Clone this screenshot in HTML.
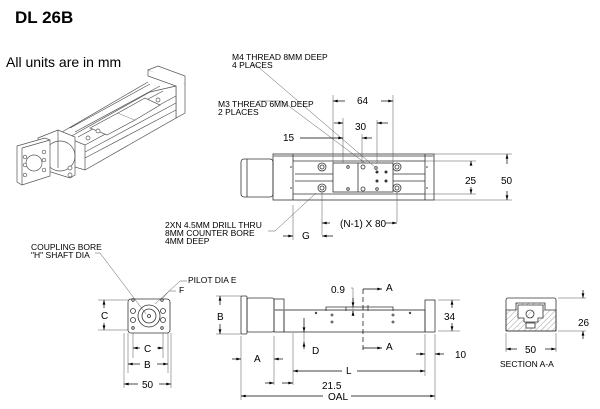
<!DOCTYPE html>
<html><head><meta charset="utf-8"><style>
html,body{margin:0;padding:0;background:#fff;width:600px;height:409px;overflow:hidden}
svg{display:block}
text{font-family:"Liberation Sans",Arial,sans-serif;fill:#000}
.s{font-size:8.5px}
.d{font-size:10px}
</style></head><body>
<svg width="600" height="409" viewBox="0 0 600 409" xmlns="http://www.w3.org/2000/svg">
<defs>
<marker id="a" viewBox="0 0 10 6" refX="10" refY="3" markerWidth="8" markerHeight="4" orient="auto-start-reverse"><path d="M0,0L10,3L0,6z" fill="#000"/></marker>
<pattern id="h" width="4" height="4" patternUnits="userSpaceOnUse" patternTransform="rotate(45)"><line x1="0" y1="0" x2="0" y2="4" stroke="#777" stroke-width="0.7"/></pattern>
</defs>
<text x="15" y="23" font-size="17" font-weight="bold">DL 26B</text>
<text x="6" y="67" font-size="14">All units are in mm</text>

<!-- iso view -->
<g fill="#fff" stroke="#555" stroke-width="0.7">
<!-- end block -->
<path d="M148,70 L175,78 L185,84 L185,113 L176,118 L176,86 L148,76 Z"/>
<path d="M148,70 L158,66 L185,76 L185,84"/>
<!-- body -->
<path d="M68,138 L150,92 L176,86 L176,118 L85,170 L68,165 Z"/>
<path d="M68,138 L85,145 L176,96"/>
<path d="M85,145 L85,170"/>
<path d="M85,152 L176,103 M85,158 L176,110"/>
<path d="M62,132 L148,82 M70,128 L150,84"/>
<!-- rails and carriage -->
<path d="M75,132 L160,86 M78,137 L163,91"/>
<path d="M90,128 L118,113 L135,120 L107,135 Z"/>
<path d="M118,113 L145,98 L160,105 L135,120"/>
<circle cx="98" cy="131" r="2"/><circle cx="88" cy="138" r="2"/><circle cx="158" cy="100" r="2"/>
<!-- motor block -->
<path d="M38,138 L58,130 L75,137 L75,175 L70,178 L38,168 Z"/>
<path d="M58,130 L58,168"/>
<circle cx="60" cy="156" r="15" fill="none"/>
<circle cx="70" cy="168" r="2"/><circle cx="70" cy="175" r="2"/>
<!-- flange -->
<path d="M17,146 L45,138 L50,140 L50,176 L22,185 L17,182 Z"/>
<path d="M22,148 L50,140 M22,148 L22,185"/>
<circle cx="34" cy="163" r="8"/>
<circle cx="25" cy="157" r="1.8"/><circle cx="25" cy="165" r="1.8"/><circle cx="44" cy="152" r="1.8"/><circle cx="44" cy="160" r="1.8"/>
<circle cx="25" cy="175" r="1.8"/><circle cx="44" cy="170" r="1.8"/>
</g>

<!-- top view -->
<g fill="none" stroke="#333" stroke-width="0.8">
<rect x="241" y="159" width="32" height="38" rx="3"/>
<line x1="247" y1="159" x2="247" y2="197"/>
<rect x="273" y="154" width="161" height="46"/>
<line x1="273" y1="156" x2="434" y2="156" stroke-width="1.5" stroke="#999"/>
<line x1="293" y1="154" x2="293" y2="200"/>
<line x1="425" y1="154" x2="425" y2="200"/>
<line x1="293" y1="161" x2="425" y2="161"/><line x1="293" y1="194" x2="425" y2="194"/>
<line x1="295" y1="174" x2="333" y2="174"/><line x1="295" y1="181" x2="333" y2="181"/>
<line x1="393" y1="174" x2="425" y2="174"/><line x1="393" y1="181" x2="425" y2="181"/>
<rect x="333" y="163" width="60" height="29"/>
<line x1="358" y1="163" x2="358" y2="192"/>
<circle cx="322" cy="167" r="4"/><circle cx="322" cy="167" r="2"/>
<circle cx="322" cy="188" r="4"/><circle cx="322" cy="188" r="2"/>
<circle cx="397" cy="167" r="4"/><circle cx="397" cy="167" r="2"/>
<circle cx="397" cy="188" r="4"/><circle cx="397" cy="188" r="2"/>
<circle cx="363" cy="167" r="2"/><circle cx="363" cy="189" r="2"/>
<circle cx="348" cy="167" r="1.3"/><circle cx="348" cy="189" r="1.3"/><circle cx="377" cy="189" r="1.3"/>
<circle cx="376" cy="168" r="1.3"/>
</g>
<g fill="#333"><circle cx="377" cy="172" r="1.5"/><circle cx="386" cy="172" r="1.5"/><circle cx="377" cy="181" r="1.5"/><circle cx="386" cy="181" r="1.5"/>
<circle cx="291" cy="167" r="0.8"/><circle cx="291" cy="188" r="0.8"/><circle cx="427" cy="167" r="0.8"/><circle cx="427" cy="188" r="0.8"/></g>
<g stroke="#555" stroke-width="0.5" fill="none">
<line x1="333" y1="95" x2="333" y2="163"/><line x1="393" y1="95" x2="393" y2="163"/>
<line x1="343" y1="118" x2="343" y2="163"/><line x1="377" y1="120" x2="377" y2="163"/>
<line x1="362" y1="134" x2="362" y2="163"/>
<line x1="322" y1="192" x2="322" y2="235"/><line x1="397" y1="192" x2="397" y2="222"/>
<line x1="293" y1="205" x2="293" y2="240"/>
<line x1="434" y1="154" x2="512" y2="154"/><line x1="434" y1="200" x2="512" y2="200"/>
<line x1="403" y1="161" x2="476" y2="161"/><line x1="403" y1="194" x2="476" y2="194"/>
<path d="M259,101 L282,101 L365,163"/>
<path d="M252,65 L256,65 L375,167"/>
<path d="M268,231 L275,231 L316,193"/>
</g>
<g stroke="#000" stroke-width="0.7" fill="none">
<line x1="345" y1="101" x2="333" y2="101" marker-end="url(#a)"/><line x1="381" y1="101" x2="393" y2="101" marker-end="url(#a)"/>
<line x1="334" y1="123" x2="343" y2="123" marker-end="url(#a)"/><line x1="388" y1="123" x2="377" y2="123" marker-end="url(#a)"/>
<line x1="300" y1="138" x2="343" y2="138" marker-end="url(#a)"/><line x1="372" y1="138" x2="362" y2="138" marker-end="url(#a)"/>
<line x1="471" y1="164" x2="471" y2="161" marker-end="url(#a)"/><line x1="471" y1="187" x2="471" y2="194" marker-end="url(#a)"/>
<line x1="507" y1="164" x2="507" y2="154" marker-end="url(#a)"/><line x1="507" y1="191" x2="507" y2="200" marker-end="url(#a)"/>
<line x1="330" y1="223" x2="322" y2="223" marker-end="url(#a)"/><line x1="386" y1="223" x2="397" y2="223" marker-end="url(#a)"/>
<line x1="283" y1="236" x2="293" y2="236" marker-end="url(#a)"/><line x1="333" y1="236" x2="322" y2="236" marker-end="url(#a)"/>
</g>
<text class="s" x="232" y="60">M4 THREAD 8MM DEEP</text>
<text class="s" x="232" y="68">4 PLACES</text>
<text class="s" x="218" y="107">M3 THREAD 6MM DEEP</text>
<text class="s" x="218" y="115">2 PLACES</text>
<text class="s" x="165" y="228">2XN 4.5MM DRILL THRU</text>
<text class="s" x="165" y="236">8MM COUNTER BORE</text>
<text class="s" x="165" y="244">4MM DEEP</text>
<text class="d" x="357" y="104">64</text>
<text class="d" x="355" y="130">30</text>
<text class="d" x="283" y="141">15</text>
<text class="d" x="465" y="184">25</text>
<text class="d" x="501" y="184">50</text>
<text class="d" x="340" y="227">(N-1) X 80</text>
<text class="d" x="302" y="239">G</text>

<!-- front view -->
<g fill="none" stroke="#333" stroke-width="0.8">
<rect x="128" y="299" width="42" height="34" rx="3"/>
<circle cx="149" cy="316" r="11"/><circle cx="149" cy="316" r="7"/><circle cx="149" cy="316" r="1.5"/>
<circle cx="133" cy="311" r="2.5"/><circle cx="133" cy="320" r="2.5"/><circle cx="163" cy="311" r="2.5"/><circle cx="163" cy="320" r="2.5"/>
<circle cx="133" cy="300" r="1.3"/><circle cx="162" cy="300" r="1.3"/><circle cx="133" cy="328" r="1.3"/><circle cx="162" cy="328" r="1.3"/>
</g>
<g stroke="#555" stroke-width="0.5" fill="none">
<path d="M95,253 L100,253 L146,314"/>
<path d="M187,281 L180,281 L155,304"/>
<path d="M176,291 L169,291 L163,298"/>
<line x1="98" y1="300" x2="128" y2="300"/><line x1="98" y1="330" x2="128" y2="330"/>
<line x1="133" y1="333" x2="133" y2="358"/><line x1="163" y1="333" x2="163" y2="358"/>
<line x1="128" y1="333" x2="128" y2="373"/><line x1="168" y1="333" x2="168" y2="373"/>
<line x1="124" y1="333" x2="124" y2="388"/><line x1="171" y1="333" x2="171" y2="388"/>
</g>
<g stroke="#000" stroke-width="0.7" fill="none">
<line x1="104" y1="308" x2="104" y2="300" marker-end="url(#a)"/><line x1="104" y1="323" x2="104" y2="330" marker-end="url(#a)"/>
<line x1="140" y1="348" x2="133" y2="348" marker-end="url(#a)"/><line x1="157" y1="348" x2="163" y2="348" marker-end="url(#a)"/>
<line x1="140" y1="364" x2="128" y2="364" marker-end="url(#a)"/><line x1="157" y1="364" x2="168" y2="364" marker-end="url(#a)"/>
<line x1="138" y1="384" x2="124" y2="384" marker-end="url(#a)"/><line x1="159" y1="384" x2="171" y2="384" marker-end="url(#a)"/>
</g>
<text class="s" x="31" y="250">COUPLING BORE</text>
<text class="s" x="31" y="258">"H" SHAFT DIA</text>
<text class="s" x="188" y="283">PILOT DIA E</text>
<text class="s" x="179" y="293">F</text>
<text class="d" x="101" y="319">C</text>
<text class="d" x="144" y="352">C</text>
<text class="d" x="144" y="368">B</text>
<text class="d" x="142" y="388">50</text>

<!-- side view -->
<g fill="none" stroke="#333" stroke-width="0.8">
<rect x="241" y="296" width="6" height="38" rx="1"/>
<rect x="247" y="298" width="27" height="34" rx="2"/>
<rect x="274" y="299" width="10" height="33"/>
<rect x="284" y="310" width="141" height="22"/>
<line x1="274" y1="310" x2="425" y2="310" stroke-width="1.5" stroke="#888"/>
<rect x="425" y="300" width="10" height="32"/>
<path d="M326,311 L326,307 L393,307 L393,311"/>
<line x1="346" y1="307" x2="346" y2="311"/><line x1="368" y1="305" x2="368" y2="311"/>
<circle cx="332" cy="315" r="1"/><circle cx="332" cy="322" r="1"/><circle cx="393" cy="315" r="1"/><circle cx="393" cy="322" r="1"/>
<circle cx="316" cy="313" r="0.8"/><circle cx="410" cy="313" r="0.8"/>
</g>
<g stroke="#000" stroke-width="0.7" fill="none">
<line x1="363" y1="289" x2="363" y2="350" stroke-dasharray="5,3"/>
<line x1="363" y1="289" x2="382" y2="289" marker-end="url(#a)"/>
<line x1="363" y1="348" x2="382" y2="348" marker-end="url(#a)"/>
</g>
<g stroke="#555" stroke-width="0.5" fill="none">
<line x1="216" y1="296" x2="241" y2="296"/><line x1="216" y1="334" x2="241" y2="334"/>
<line x1="351" y1="288" x2="353" y2="288"/><line x1="353" y1="288" x2="353" y2="315"/>
<line x1="241" y1="336" x2="241" y2="400"/><line x1="274" y1="336" x2="274" y2="385"/>
<line x1="293" y1="333" x2="293" y2="385"/><line x1="425" y1="334" x2="425" y2="376"/>
<line x1="435" y1="334" x2="435" y2="400"/>
<line x1="304" y1="332" x2="304" y2="345"/>
<line x1="438" y1="300" x2="460" y2="300"/><line x1="438" y1="331" x2="460" y2="331"/>
</g>
<g stroke="#000" stroke-width="0.7" fill="none">
<line x1="220" y1="305" x2="220" y2="296" marker-end="url(#a)"/><line x1="220" y1="324" x2="220" y2="334" marker-end="url(#a)"/>
<line x1="353" y1="298" x2="353" y2="307" marker-end="url(#a)"/><line x1="353" y1="316" x2="353" y2="311" marker-end="url(#a)"/>
<line x1="304" y1="318" x2="304" y2="332" marker-end="url(#a)"/><line x1="304" y1="349" x2="304" y2="342" marker-end="url(#a)"/>
<line x1="232" y1="359" x2="241" y2="359" marker-end="url(#a)"/><line x1="283" y1="359" x2="274" y2="359" marker-end="url(#a)"/>
<line x1="342" y1="371" x2="293" y2="371" marker-end="url(#a)"/><line x1="357" y1="371" x2="425" y2="371" marker-end="url(#a)"/>
<line x1="265" y1="383" x2="274" y2="383" marker-end="url(#a)"/><line x1="282" y1="383" x2="293" y2="383" marker-end="url(#a)"/>
<line x1="323" y1="396" x2="241" y2="396" marker-end="url(#a)"/><line x1="351" y1="396" x2="435" y2="396" marker-end="url(#a)"/>
<line x1="416" y1="354" x2="425" y2="354" marker-end="url(#a)"/><line x1="444" y1="354" x2="435" y2="354" marker-end="url(#a)"/>
<line x1="452" y1="308" x2="452" y2="300" marker-end="url(#a)"/><line x1="452" y1="323" x2="452" y2="331" marker-end="url(#a)"/>
</g>
<text class="d" x="217" y="320">B</text>
<text class="d" x="331" y="293">0.9</text>
<text class="d" x="386" y="291">A</text>
<text class="d" x="386" y="350">A</text>
<text class="d" x="312" y="354">D</text>
<text class="d" x="254" y="362">A</text>
<text class="d" x="346" y="374">L</text>
<text class="d" x="322" y="389">21.5</text>
<text class="d" x="328" y="400">OAL</text>
<text class="d" x="455" y="358">10</text>
<text class="d" x="444" y="320">34</text>

<!-- section A-A -->
<g stroke="#333" stroke-width="0.8">
<rect x="506" y="298" width="50" height="33" rx="2" fill="#fff"/>
<path d="M506,310 L516,310 L516,303 L545,303 L545,310 L556,310 L556,331 L506,331 Z" fill="url(#h)"/>
<path d="M518,305 L543,305 L543,318 L538,318 L538,322 L524,322 L524,318 L518,318 Z" fill="#fff"/>
<circle cx="530" cy="314" r="4" fill="url(#h)"/>
<rect x="526" y="323" width="9" height="5" fill="#fff"/>
</g>
<g stroke="#555" stroke-width="0.5" fill="none">
<line x1="506" y1="333" x2="506" y2="352"/><line x1="556" y1="333" x2="556" y2="352"/>
<line x1="558" y1="298" x2="586" y2="298"/><line x1="558" y1="331" x2="586" y2="331"/>
</g>
<g stroke="#000" stroke-width="0.7" fill="none">
<line x1="517" y1="349" x2="506" y2="349" marker-end="url(#a)"/><line x1="545" y1="349" x2="556" y2="349" marker-end="url(#a)"/>
<line x1="583" y1="290" x2="583" y2="298" marker-end="url(#a)"/><line x1="583" y1="339" x2="583" y2="331" marker-end="url(#a)"/>
</g>
<text class="d" x="525" y="353">50</text>
<text class="s" x="500" y="367">SECTION A-A</text>
<text class="d" x="578" y="326">26</text>
</svg>
</body></html>
